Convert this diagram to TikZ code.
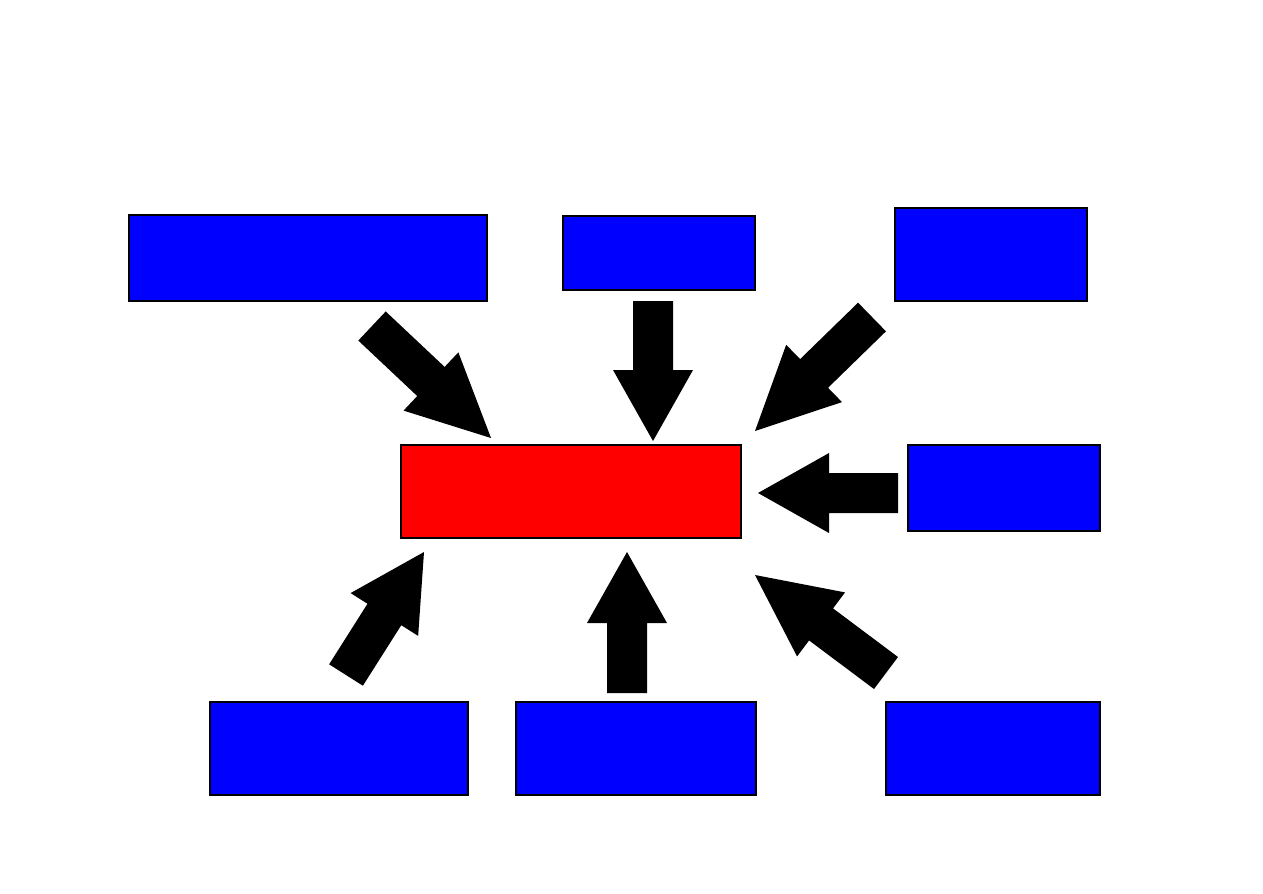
\documentclass[tikz,border=0pt]{standalone}
\usetikzlibrary{calc,fit}
\tikzset{
  hubbox/.style={draw=black, line width=1.2pt, inner sep=0pt, outer sep=0pt},
  feedbox/.style={hubbox, fill=blue},
  corebox/.style={hubbox, fill=red}
}
% block arrow: tail, tip, head length
\newcommand{\fatarrow}[3]{%
  \coordinate (hb) at ($(#2)!#3!(#1)$);
  \fill[black] ($(#1)!0.4cm!90:(#2)$) -- ($(hb)!0.4cm!90:(#2)$)
    -- ($(hb)!0.8cm!90:(#2)$) -- (#2) -- ($(hb)!0.8cm!-90:(#2)$)
    -- ($(hb)!0.4cm!-90:(#2)$) -- ($(#1)!0.4cm!-90:(#2)$) -- cycle;
}

\begin{document}
\begin{tikzpicture}[x=0.02cm, y=-0.02cm]
  \useasboundingbox (0,0) rectangle (1263,893);

  % boxes
  \node[corebox, fit={(401,445) (741,538)}] (core) {};
  \node[feedbox, fit={(129,215) (487,301)}] (topleft) {};
  \node[feedbox, fit={(563,216) (755,290)}] (topmid) {};
  \node[feedbox, fit={(895,208) (1087,301)}] (topright) {};
  \node[feedbox, fit={(908,445) (1100,531)}] (midright) {};
  \node[feedbox, fit={(210,702) (468,795)}] (botleft) {};
  \node[feedbox, fit={(516,702) (756,795)}] (botmid) {};
  \node[feedbox, fit={(886,702) (1100,795)}] (botright) {};

  % arrow ends
  \coordinate (t1) at (372,326); \coordinate (p1) at (491,438);
  \coordinate (t2) at (653,301); \coordinate (p2) at (653,441);
  \coordinate (t3) at (872,317); \coordinate (p3) at (755,431);
  \coordinate (t4) at (898,493); \coordinate (p4) at (758,493);
  \coordinate (t5) at (346,675); \coordinate (p5) at (424,552);
  \coordinate (t6) at (627,693); \coordinate (p6) at (627,552);
  \coordinate (t7) at (886,673); \coordinate (p7) at (755,575);

  \fatarrow{t1}{p1}{1.65cm}
  \fatarrow{t2}{p2}{1.42cm}
  \fatarrow{t3}{p3}{1.65cm}
  \fatarrow{t4}{p4}{1.42cm}
  \fatarrow{t5}{p5}{1.48cm}
  \fatarrow{t6}{p6}{1.42cm}
  \fatarrow{t7}{p7}{1.65cm}
\end{tikzpicture}
\end{document}
